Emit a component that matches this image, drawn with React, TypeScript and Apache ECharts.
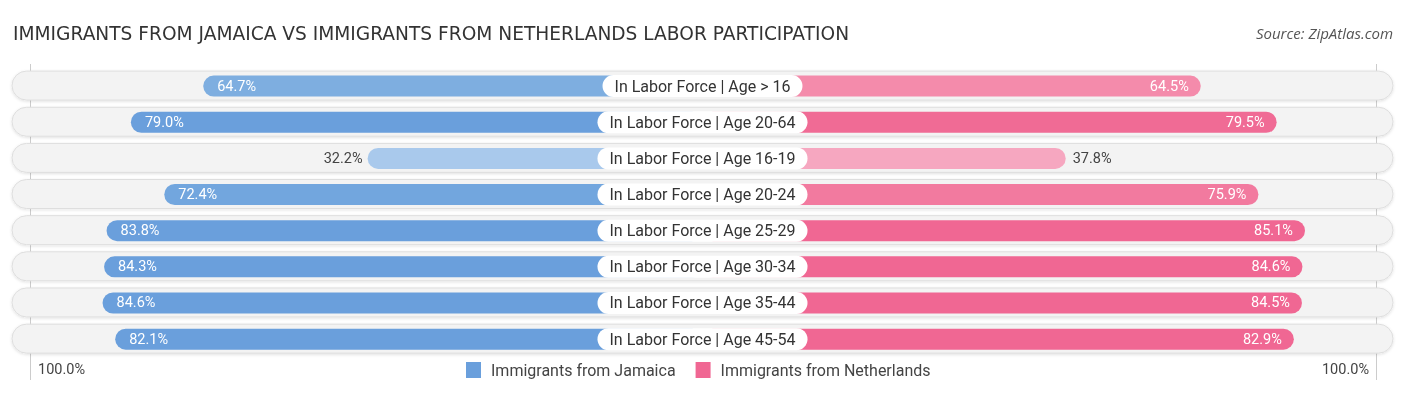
import React, { useEffect, useRef } from "react";
import * as echarts from "echarts";

const categories = [
  "In Labor Force | Age > 16",
  "In Labor Force | Age 20-64",
  "In Labor Force | Age 16-19",
  "In Labor Force | Age 20-24",
  "In Labor Force | Age 25-29",
  "In Labor Force | Age 30-34",
  "In Labor Force | Age 35-44",
  "In Labor Force | Age 45-54",
];
const jamaica = [64.7, 79.0, 32.2, 72.4, 83.8, 84.3, 84.6, 82.1];
const netherlands = [64.5, 79.5, 37.8, 75.9, 85.1, 84.6, 84.5, 82.9];
const jamaicaColors = ["#7eaee0", "#6a9fdc", "#a9c9ec", "#72a6de", "#6a9fdc", "#6a9fdc", "#6a9fdc", "#6a9fdc"];
const netherlandsColors = ["#f48bab", "#f06b95", "#f6a7c0", "#f27a9f", "#f06793", "#f06793", "#f06793", "#f06793"];
const seriesNames = ["Immigrants from Jamaica", "Immigrants from Netherlands"];
const title = "IMMIGRANTS FROM JAMAICA VS IMMIGRANTS FROM NETHERLANDS LABOR PARTICIPATION";
const source = "Source: ZipAtlas.com";
const axisLabelLeft = "100.0%";
const axisLabelRight = "100.0%";

// layout: bars start under the centre label; offset (in axis units) for the label area
const OFFSET = 34;
const SPAN = 136.5;
const INSIDE_MIN = 50;

export default function App() {
  const ref = useRef<HTMLDivElement>(null);
  useEffect(() => {
    const chart = echarts.init(ref.current!, null, { renderer: "svg" });
    const font = "Roboto, 'Noto Sans', sans-serif";
    const leftData = jamaica.map((v, i) => {
      const inside = v >= INSIDE_MIN;
      return {
        value: -(OFFSET + v),
        itemStyle: { color: jamaicaColors[i] },
        label: {
          show: true,
          position: inside ? "insideLeft" : "left",
          distance: inside ? 14 : 5,
          color: inside ? "#ffffff" : "#444444",
          formatter: v.toFixed(1) + "%",
        },
      };
    });
    const rightData = netherlands.map((v, i) => {
      const inside = v >= INSIDE_MIN;
      return {
        value: OFFSET + v,
        itemStyle: { color: netherlandsColors[i] },
        label: {
          show: true,
          position: inside ? "insideRight" : "right",
          distance: inside ? 12 : 7,
          color: inside ? "#ffffff" : "#444444",
          formatter: v.toFixed(1) + "%",
        },
      };
    });
    const option: any = {
      animation: false,
      textStyle: { fontFamily: font },
      title: [
        {
          text: title,
          left: 8,
          top: 19,
          textStyle: { fontSize: 18.6, fontWeight: "normal", color: "#333333", fontFamily: "'DejaVu Sans', sans-serif" },
        },
        {
          text: source,
          right: 8,
          top: 20,
          textStyle: { fontSize: 15, fontWeight: "normal", fontStyle: "italic", color: "#555555", fontFamily: "'Open Sans', sans-serif" },
        },
      ],
      legend: {
        top: 357,
        left: 461,
        itemWidth: 15,
        itemHeight: 16,
        itemGap: 20,
        icon: "rect",
        textStyle: { fontSize: 16, color: "#444444", fontFamily: font, padding: [0, 0, 0, 5] },
        data: [
          { name: seriesNames[0], itemStyle: { color: "#6a9fdc" } },
          { name: seriesNames[1], itemStyle: { color: "#f06793" } },
        ],
      },
      grid: { left: 12, right: 13, top: 68, height: 289.2 },
      xAxis: {
        type: "value",
        min: -SPAN,
        max: SPAN,
        show: false,
      },
      yAxis: {
        type: "category",
        data: categories,
        inverse: true,
        show: false,
      },
      graphic: [
        { type: "line", shape: { x1: 30.5, y1: 64, x2: 30.5, y2: 380 }, style: { stroke: "#cccccc", lineWidth: 1 }, z: 0 },
        { type: "line", shape: { x1: 1376.5, y1: 64, x2: 1376.5, y2: 380 }, style: { stroke: "#cccccc", lineWidth: 1 }, z: 0 },
        { type: "text", left: 38, top: 362, style: { text: axisLabelLeft, fontSize: 14.5, fill: "#444444", fontFamily: font } },
        { type: "text", right: 37, top: 362, style: { text: axisLabelRight, fontSize: 14.5, fill: "#444444", fontFamily: font } },
      ],
      series: [
        {
          type: "custom",
          name: "bg",
          silent: true,
          z: 1,
          data: categories.map((_, i) => i),
          renderItem: (params: any, api: any) => {
            const idx = api.value(0);
            const p1 = api.coord([-SPAN, idx]);
            const p2 = api.coord([SPAN, idx]);
            const h = 29;
            return {
              type: "rect",
              shape: { x: p1[0], y: p1[1] - h / 2 - 0.5, width: p2[0] - p1[0], height: h, r: h / 2 },
              style: {
                fill: "#f3f3f3",
                stroke: "#dedede",
                lineWidth: 1,
                shadowBlur: 3,
                shadowColor: "rgba(0,0,0,0.12)",
                shadowOffsetY: 1,
              },
            };
          },
        },
        {
          type: "bar",
          name: seriesNames[0],
          data: leftData,
          barWidth: 21,
          barGap: "-100%",
          z: 2,
          itemStyle: { borderRadius: 10.5 },
          label: { fontSize: 14.5, fontFamily: font },
        },
        {
          type: "bar",
          name: seriesNames[1],
          data: rightData,
          barWidth: 21,
          barGap: "-100%",
          z: 2,
          itemStyle: { borderRadius: 10.5 },
          label: { fontSize: 14.5, fontFamily: font },
        },
        {
          type: "custom",
          name: "labels",
          silent: true,
          z: 5,
          data: categories.map((_, i) => i),
          renderItem: (params: any, api: any) => {
            const idx = api.value(0);
            const p = api.coord([0, idx]);
            return {
              type: "text",
              x: p[0],
              y: p[1],
              style: {
                text: categories[idx],
                fontSize: 16,
                fontFamily: font,
                fill: "#333333",
                align: "center",
                verticalAlign: "middle",
                backgroundColor: "#ffffff",
                borderRadius: 11,
                padding: [3, 12, 3, 12],
                lineHeight: 16,
                boxShadowBlur: 2,
                boxShadowColor: "rgba(0,0,0,0.18)",
                boxShadowOffsetY: 1,
              },
            };
          },
        },
      ],
    };
    chart.setOption(option);
    return () => chart.dispose();
  }, []);
  return (
    <div
      ref={ref}
      style={{ position: "fixed", left: 0, top: 0, width: 1406, height: 395 }}
    />
  );
}
